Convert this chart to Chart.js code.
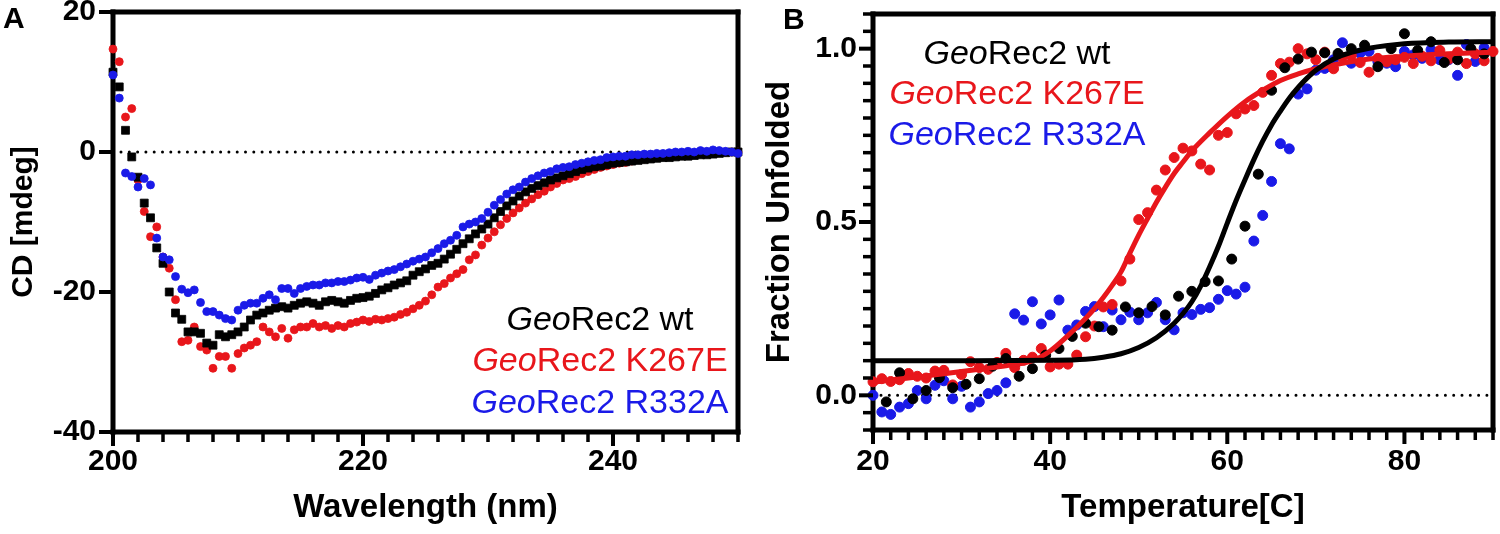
<!DOCTYPE html>
<html>
<head>
<meta charset="utf-8">
<script src="https://cdn.jsdelivr.net/npm/chart.js@4.4.1/dist/chart.umd.min.js"></script>
<style>
  html, body { margin: 0; padding: 0; background: #fff; }
  #wrap { position: relative; width: 1500px; height: 534px; }
  .panel { position: absolute; top: 0; }
  #panelA { left: 0; }
  #panelB { left: 760px; }
</style>
</head>
<body>
<div id="wrap">
  <div class="panel" id="panelA"><canvas id="cdChart" width="760" height="534"></canvas></div>
  <div class="panel" id="panelB"><canvas id="meltChart" width="740" height="534"></canvas></div>
</div>
<script>
// ---- series names / colours ----
const seriesNames = ['GeoRec2 wt', 'GeoRec2 K267E', 'GeoRec2 R332A'];
const seriesColors = ['#000000', '#e8161b', '#1a1ae8'];

// ---- panel A: CD spectra ----
const wavelengths = [
  200, 200.5, 201, 201.5, 202, 202.5, 203, 203.5, 204, 204.5,
  205, 205.5, 206, 206.5, 207, 207.5, 208, 208.5, 209, 209.5,
  210, 210.5, 211, 211.5, 212, 212.5, 213, 213.5, 214, 214.5,
  215, 215.5, 216, 216.5, 217, 217.5, 218, 218.5, 219, 219.5,
  220, 220.5, 221, 221.5, 222, 222.5, 223, 223.5, 224, 224.5,
  225, 225.5, 226, 226.5, 227, 227.5, 228, 228.5, 229, 229.5,
  230, 230.5, 231, 231.5, 232, 232.5, 233, 233.5, 234, 234.5,
  235, 235.5, 236, 236.5, 237, 237.5, 238, 238.5, 239, 239.5,
  240, 240.5, 241, 241.5, 242, 242.5, 243, 243.5, 244, 244.5,
  245, 245.5, 246, 246.5, 247, 247.5, 248, 248.5, 249, 249.5,
  250
];
const cdWt = [
  11.4, 9.3, 3.1, -0.7, -3.6, -7.3, -9.4, -13.7, -15.9, -20.0,
  -23.0, -23.9, -25.7, -25.7, -25.9, -27.3, -27.6, -26.1, -26.4, -26.1,
  -25.7, -25.0, -24.0, -23.3, -23.0, -22.6, -22.3, -22.1, -22.3, -21.9,
  -21.6, -21.4, -21.6, -21.9, -21.4, -21.2, -21.4, -21.6, -21.2, -20.9,
  -20.8, -20.6, -20.2, -19.7, -19.4, -19.0, -18.7, -18.4, -17.6, -17.1,
  -16.7, -16.2, -15.9, -15.3, -14.6, -13.9, -13.1, -12.4, -11.7, -11.0,
  -10.3, -9.4, -8.5, -7.7, -7.0, -6.3, -5.7, -5.2, -4.8, -4.4,
  -4.0, -3.7, -3.4, -3.1, -2.8, -2.5, -2.3, -2.1, -2.0, -1.8,
  -1.6, -1.5, -1.4, -1.3, -1.2, -1.1, -1.0, -0.9, -0.8, -0.8,
  -0.7, -0.6, -0.6, -0.5, -0.4, -0.4, -0.3, -0.2, -0.1, 0.0,
  0.0
];
const cdK267E = [
  14.7, 12.9, 5.0, 6.2, -4.0, -8.5, -12.1, -10.7, -15.0, -16.6,
  -21.1, -27.1, -26.9, -25.0, -27.8, -28.3, -30.9, -29.2, -29.2, -30.9,
  -28.8, -28.0, -27.6, -27.1, -25.0, -25.7, -26.4, -25.2, -26.6, -25.4,
  -25.0, -25.0, -24.5, -25.0, -24.8, -25.2, -24.8, -25.0, -24.5, -24.3,
  -24.0, -24.2, -23.9, -24.0, -23.8, -23.6, -23.2, -22.9, -22.4, -21.9,
  -21.3, -20.4, -19.3, -18.8, -18.0, -17.4, -16.8, -15.4, -14.7, -13.3,
  -12.3, -11.4, -10.4, -9.5, -8.7, -8.0, -7.3, -6.7, -6.1, -5.6,
  -5.0, -4.5, -4.0, -3.8, -3.5, -3.1, -2.8, -2.5, -2.2, -2.0,
  -1.8, -1.6, -1.5, -1.3, -1.1, -1.0, -0.8, -0.7, -0.6, -0.5,
  -0.4, -0.3, -0.2, -0.2, -0.1, 0.0, 0.0, 0.1, 0.0, 0.0,
  0.0
];
const cdR332A = [
  11.0, 7.7, -3.0, -3.5, -5.0, -3.8, -4.7, -12.3, -15.0, -15.4,
  -17.8, -19.6, -20.1, -19.7, -21.5, -22.8, -22.8, -23.3, -23.8, -24.0,
  -22.6, -21.9, -21.6, -21.6, -20.9, -20.4, -21.1, -19.5, -19.5, -20.2,
  -19.5, -19.2, -19.0, -19.0, -18.7, -18.7, -18.5, -18.5, -18.3, -18.0,
  -17.9, -18.2, -17.6, -17.3, -17.0, -16.8, -16.4, -16.0, -15.6, -15.3,
  -15.0, -14.4, -13.8, -13.1, -12.6, -11.9, -10.7, -10.3, -10.0, -9.5,
  -8.6, -7.6, -6.8, -6.0, -5.4, -5.0, -4.3, -3.8, -3.4, -3.0,
  -2.8, -2.4, -2.2, -2.1, -1.8, -1.6, -1.4, -1.2, -1.1, -0.8,
  -0.7, -0.6, -0.6, -0.4, -0.4, -0.3, -0.3, -0.2, -0.2, -0.1,
  0.0, 0.0, 0.1, 0.0, 0.2, 0.1, 0.3, 0.2, 0.1, 0.0,
  -0.2
];

// ---- panel B: thermal melt ----
const tempsWt = [
  21.5, 23, 24.5, 26, 27.5, 29, 30.5, 32, 33.5, 35, 36.5, 38, 39.5, 41, 42.5, 44,
  45.5, 47, 48.5, 50, 51.5, 53, 54.5, 56, 57.5, 59, 60.5, 62, 63.5, 65, 66.5, 68,
  69.5, 71, 72.5, 74, 75.5, 77, 78.5, 80, 81.5, 83, 84.5, 86, 87.5, 89
];
const fracWt = [
  -0.019, 0.065, -0.010, 0.014, 0.051, 0.022, 0.032, 0.048, 0.084, 0.106, 0.055, 0.077, 0.116, 0.135, 0.170, 0.208,
  0.198, 0.188, 0.255, 0.238, 0.256, 0.232, 0.286, 0.300, 0.328, 0.330, 0.393, 0.488, 0.638, 0.880, 0.945, 0.970,
  0.990, 0.988, 0.986, 1.000, 1.010, 0.948, 1.000, 1.043, 0.995, 1.020, 0.960, 0.968, 1.000, 0.985
];
const tempsK267E = [
  20, 21, 22, 23, 24, 25, 26, 27, 28, 29,
  30, 31, 32, 33, 34, 35, 36, 37, 38, 39,
  40, 41, 42, 43, 44, 45, 46, 47, 48, 49,
  50, 51, 52, 53, 54, 55, 56, 57, 58, 59,
  60, 61, 62, 63, 64, 65, 66, 67, 68, 69,
  70, 71, 72, 73, 74, 75, 76, 77, 78, 79,
  80, 81, 82, 83, 84, 85, 86, 87, 88, 89, 90
];
const fracK267E = [
  0.039, 0.048, 0.040, 0.045, 0.063, 0.055, 0.050, 0.070, 0.072, 0.030,
  0.060, 0.097, 0.080, 0.075, 0.095, 0.121, 0.080, 0.101, 0.110, 0.135,
  0.082, 0.090, 0.090, 0.116, 0.169, 0.200, 0.255, 0.262, 0.330, 0.393,
  0.507, 0.527, 0.592, 0.650, 0.686, 0.713, 0.705, 0.667, 0.650, 0.750,
  0.758, 0.812, 0.826, 0.836, 0.874, 0.923, 0.957, 0.961, 1.000, 0.985,
  0.968, 0.990, 0.942, 0.975, 0.980, 0.960, 0.932, 0.972, 0.962, 0.968,
  0.975, 0.957, 0.978, 0.965, 0.995, 0.970, 0.990, 0.957, 0.985, 0.965, 0.992
];
const tempsR332A = [
  20, 21, 22, 23, 24, 25, 26, 27, 28, 29,
  30, 31, 32, 33, 34, 35, 36, 37, 38, 39,
  40, 41, 42, 43, 44, 45, 46, 47, 48, 49,
  50, 51, 52, 53, 54, 55, 56, 57, 58, 59,
  60, 61, 62, 63, 64, 65, 66, 67, 68, 69,
  70, 71, 72, 73, 74, 75, 76, 77, 78, 79,
  80, 81, 82, 83, 84, 85, 86, 87, 88, 89
];
const fracR332A = [
  0.000, -0.048, -0.055, -0.034, -0.024, 0.014, -0.010, 0.029, 0.042, -0.010,
  0.026, -0.034, -0.019, 0.005, 0.014, 0.036, 0.235, 0.217, 0.270, 0.206,
  0.232, 0.275, 0.188, 0.203, 0.242, 0.256, 0.198, 0.246, 0.218, 0.240,
  0.218, 0.238, 0.268, 0.218, 0.189, 0.238, 0.233, 0.248, 0.253, 0.277,
  0.302, 0.292, 0.312, 0.445, 0.519, 0.617, 0.726, 0.711, 0.869, 0.884,
  0.938, 0.943, 0.968, 1.017, 0.958, 0.987, 0.992, 0.963, 0.958, 0.948,
  0.992, 0.982, 0.972, 0.997, 0.968, 0.968, 0.923, 1.012, 0.963, 1.002
];
// fitted curves
const fitWtTemps = [20, 30, 40, 44, 46, 48, 50, 52, 54, 55, 56, 57, 58, 59, 60, 61, 62, 63, 64, 65, 66, 67, 68, 69, 70, 72, 74, 76, 80, 85, 90];
const fitWt = [0.100, 0.100, 0.101, 0.104, 0.110, 0.120, 0.138, 0.166, 0.208, 0.236, 0.270, 0.315, 0.370, 0.430, 0.497, 0.562, 0.622, 0.680, 0.733, 0.780, 0.820, 0.857, 0.888, 0.915, 0.938, 0.970, 0.989, 1.001, 1.014, 1.019, 1.020];
const fitK267ETemps = [20, 24, 28, 32, 35, 38, 40, 42, 44, 45, 46, 47, 48, 49, 50, 51, 52, 53, 54, 55, 56, 58, 60, 62, 64, 66, 68, 70, 73, 76, 80, 85, 90];
const fitK267E = [0.038, 0.050, 0.062, 0.075, 0.085, 0.100, 0.128, 0.172, 0.222, 0.250, 0.282, 0.317, 0.356, 0.410, 0.462, 0.510, 0.557, 0.600, 0.640, 0.673, 0.705, 0.757, 0.805, 0.847, 0.880, 0.908, 0.927, 0.942, 0.958, 0.970, 0.978, 0.985, 0.990];

const FONT = '"Liberation Sans", Arial, Helvetica, sans-serif';
const bold = size => ({ family: FONT, size: size, weight: 'bold' });
const pts = (xs, ys) => xs.map((x, i) => ({ x: x, y: ys[i] }));

// tick marks along a scale: one every stepSize, longer ones every `major`
function drawTicks(ctx, scale, major, horizontal, edge) {
  const step = scale.options.ticks.stepSize;
  const n = Math.round((scale.max - scale.min) / step);
  for (let i = 0; i <= n; i++) {
    const v = scale.min + i * step;
    const big = Math.abs(v / major - Math.round(v / major)) < 1e-6;
    const len = big ? 14 : 10;
    const w = big ? 4 : 3.5;
    const p = scale.getPixelForValue(v);
    if (horizontal) ctx.fillRect(p - w / 2, edge, w, len);
    else ctx.fillRect(edge - len, p - w / 2, len, w);
  }
}

// frame + dotted zero line under the data; ticks, legend text and panel letter on top
const panelPlugin = {
  id: 'panel',
  beforeDatasetsDraw(chart) {
    const { ctx, chartArea: a, scales } = chart;
    ctx.save();
    ctx.strokeStyle = '#000';
    ctx.fillStyle = '#000';
    const y0 = scales.y.getPixelForValue(0);
    ctx.lineWidth = 3;
    ctx.lineCap = 'round';
    ctx.setLineDash([0, 8.3]);
    ctx.beginPath();
    ctx.moveTo(a.left + 8, y0);
    ctx.lineTo(a.right - 4, y0);
    ctx.stroke();

    const t = 5;
    ctx.fillRect(a.left - t / 2, a.top - t / 2, a.right - a.left + t, t);
    ctx.fillRect(a.left - t / 2, a.bottom - t / 2, a.right - a.left + t, t);
    ctx.fillRect(a.left - t / 2, a.top - t / 2, t, a.bottom - a.top + t);
    ctx.fillRect(a.right - t / 2, a.top - t / 2, t, a.bottom - a.top + t);
    ctx.restore();
  },
  afterDraw(chart, args, opts) {
    const { ctx, chartArea: a, scales } = chart;
    ctx.save();
    ctx.fillStyle = '#000';
    drawTicks(ctx, scales.x, opts.xMajor, true, a.bottom);
    drawTicks(ctx, scales.y, opts.yMajor, false, a.left);

    ctx.textAlign = 'left';
    ctx.textBaseline = 'alphabetic';
    ctx.font = 'bold 30px ' + FONT;
    ctx.fillText(opts.letter, opts.letterX, opts.letterY);

    const size = opts.legendSize;
    seriesNames.forEach((name, i) => {
      const head = name.slice(0, 3);
      const rest = name.slice(3);
      const italic = 'italic ' + size + 'px ' + FONT;
      const normal = size + 'px ' + FONT;
      ctx.font = italic;
      const w1 = ctx.measureText(head).width;
      ctx.font = normal;
      const w2 = ctx.measureText(rest).width;
      const x = opts.legendX - (w1 + w2) / 2;
      ctx.fillStyle = seriesColors[i];
      ctx.font = italic;
      ctx.fillText(head, x, opts.legendY[i]);
      ctx.font = normal;
      ctx.fillText(rest, x + w1, opts.legendY[i]);
    });
    ctx.restore();
  }
};

// the scale's own tick marks are kept invisible; they only space the labels
const hiddenGrid = { drawOnChartArea: false, color: 'rgba(0,0,0,0)', tickLength: 11 };

function xAxis(min, max, title, height, gap) {
  return {
    type: 'linear', min: min, max: max,
    ticks: {
      stepSize: 2, autoSkip: false, maxRotation: 0, color: '#000', font: bold(30), padding: gap,
      callback: v => (Math.round(v) % 20 === 0 ? String(Math.round(v)) : '')
    },
    grid: hiddenGrid,
    border: { display: false },
    title: { display: true, text: title, color: '#000', font: bold(33), padding: { top: 0, bottom: 6 } },
    afterFit: s => { s.height = height; s.paddingLeft = 0; s.paddingRight = 0; }
  };
}

new Chart(document.getElementById('cdChart'), {
  type: 'scatter',
  data: {
    datasets: [
      { label: seriesNames[2], data: pts(wavelengths, cdR332A), order: 1, clip: false,
        pointStyle: 'circle', pointRadius: 4, pointBorderWidth: 0.8,
        backgroundColor: seriesColors[2], borderColor: seriesColors[2] },
      { label: seriesNames[0], data: pts(wavelengths, cdWt), order: 2, clip: false,
        pointStyle: 'rect', pointRadius: 5.6, pointBorderWidth: 0.8,
        backgroundColor: seriesColors[0], borderColor: seriesColors[0] },
      { label: seriesNames[1], data: pts(wavelengths, cdK267E), order: 3, clip: false,
        pointStyle: 'circle', pointRadius: 4, pointBorderWidth: 0.8,
        backgroundColor: seriesColors[1], borderColor: seriesColors[1] }
    ]
  },
  options: {
    responsive: false,
    animation: false,
    layout: { padding: { left: 0, right: 22, top: 12, bottom: 0 } },
    plugins: {
      legend: { display: false },
      tooltip: { enabled: false },
      panel: { letter: 'A', letterX: 3, letterY: 28, legendX: 600, legendY: [330, 371, 413], legendSize: 34,
               xMajor: 20, yMajor: 20 }
    },
    scales: {
      x: xAxis(200, 250, 'Wavelength (nm)', 102, 1),
      y: {
        min: -40, max: 20,
        ticks: { stepSize: 20, color: '#000', font: bold(30), padding: 6, callback: v => String(v) },
        grid: hiddenGrid,
        border: { display: false },
        title: { display: true, text: 'CD [mdeg]', color: '#000', font: bold(30), padding: { top: 6 } },
        afterFit: s => { s.width = 113; s.paddingTop = 0; s.paddingBottom = 0; }
      }
    }
  },
  plugins: [panelPlugin]
});

new Chart(document.getElementById('meltChart'), {
  type: 'scatter',
  data: {
    datasets: [
      { label: seriesNames[0] + ' fit', data: pts(fitWtTemps, fitWt), order: 1, clip: false,
        showLine: true, pointRadius: 0, borderWidth: 5, borderColor: seriesColors[0],
        cubicInterpolationMode: 'monotone' },
      { label: seriesNames[1] + ' fit', data: pts(fitK267ETemps, fitK267E), order: 2, clip: false,
        showLine: true, pointRadius: 0, borderWidth: 5, borderColor: seriesColors[1],
        cubicInterpolationMode: 'monotone' },
      { label: seriesNames[0], data: pts(tempsWt, fracWt), order: 3, clip: false,
        pointRadius: 5, pointBorderWidth: 1, backgroundColor: seriesColors[0], borderColor: seriesColors[0] },
      { label: seriesNames[1], data: pts(tempsK267E, fracK267E), order: 4, clip: false,
        pointRadius: 5, pointBorderWidth: 1, backgroundColor: seriesColors[1], borderColor: seriesColors[1] },
      { label: seriesNames[2], data: pts(tempsR332A, fracR332A), order: 5, clip: false,
        pointRadius: 5, pointBorderWidth: 1, backgroundColor: seriesColors[2], borderColor: seriesColors[2] }
    ]
  },
  options: {
    responsive: false,
    animation: false,
    layout: { padding: { left: 0, right: 7, top: 14, bottom: 0 } },
    plugins: {
      legend: { display: false },
      tooltip: { enabled: false },
      panel: { letter: 'B', letterX: 23, letterY: 29, legendX: 257, legendY: [64, 104, 145], legendSize: 34,
               xMajor: 20, yMajor: 0.5 }
    },
    scales: {
      x: xAxis(20, 90, 'Temperature[C]', 104, 3),
      y: {
        min: -0.1, max: 1.1,
        ticks: {
          stepSize: 0.05, autoSkip: false, color: '#000', font: bold(30), padding: 5,
          callback: v => { const r = Math.round(v * 100); return r % 50 === 0 ? (r / 100).toFixed(1) : ''; }
        },
        grid: hiddenGrid,
        border: { display: false },
        title: { display: true, text: 'Fraction Unfolded', color: '#000', font: bold(33), padding: { top: 0 } },
        afterFit: s => { s.width = 113; s.paddingTop = 0; s.paddingBottom = 0; }
      }
    }
  },
  plugins: [panelPlugin]
});
</script>
</body>
</html>
